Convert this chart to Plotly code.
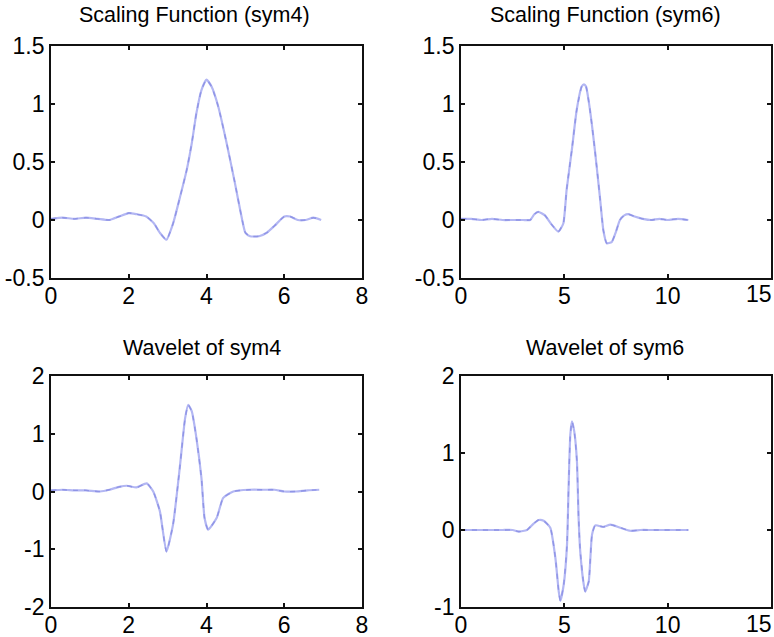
import plotly.graph_objects as go

# ---- data ----
x_phi4 = [0, 0.3, 0.6, 0.9, 1.2, 1.5, 1.75, 2.0, 2.2, 2.45, 2.65, 2.8, 2.97, 3.14, 3.32, 3.49, 3.62, 3.74,
          3.87, 4.0, 4.13, 4.3, 4.52, 4.73, 4.9, 5.0, 5.12, 5.35, 5.55, 5.75, 6.0, 6.15, 6.35, 6.55, 6.75, 6.95]
y_phi4 = [0.01, 0.02, 0.01, 0.02, 0.01, 0.0, 0.03, 0.06, 0.05, 0.03, -0.03, -0.11, -0.17, -0.03, 0.2, 0.43, 0.66, 0.92,
          1.12, 1.21, 1.15, 0.98, 0.66, 0.32, 0.03, -0.11, -0.14, -0.14, -0.11, -0.05, 0.03, 0.03, 0.0, 0.0, 0.02, 0.0]

x_phi6 = [0, 0.5, 1.0, 1.5, 2.0, 2.5, 3.0, 3.35, 3.55, 3.74, 4.06, 4.39, 4.71, 4.95, 5.11, 5.36, 5.6, 5.84, 5.95,
          6.05, 6.24, 6.48, 6.72, 6.89, 7.05, 7.29, 7.5, 7.69, 7.9, 8.1, 8.4, 8.8, 9.2, 9.6, 10.0, 10.5, 11.0]
y_phi6 = [0.01, 0.01, 0.0, 0.01, 0.0, 0.0, 0.0, 0.0, 0.05, 0.07, 0.04, -0.04, -0.1, -0.03, 0.26, 0.6, 0.95, 1.15, 1.17,
          1.15, 0.95, 0.6, 0.2, -0.09, -0.2, -0.19, -0.1, 0.0, 0.04, 0.05, 0.03, 0.01, 0.0, 0.01, 0.0, 0.01, 0.0]

x_psi4 = [0, 0.3, 0.6, 0.9, 1.26, 1.5, 1.75, 1.95, 2.2, 2.46, 2.63, 2.8, 2.97, 3.14, 3.32, 3.45, 3.53, 3.62, 3.74,
          3.87, 3.95, 4.04, 4.26, 4.43, 4.69, 5.1, 5.5, 5.75, 6.0, 6.3, 6.6, 6.9]
y_psi4 = [0.02, 0.03, 0.02, 0.02, 0.0, 0.03, 0.08, 0.1, 0.07, 0.14, 0.0, -0.34, -1.04, -0.57, 0.46, 1.27, 1.5, 1.39, 0.93,
          0.23, -0.46, -0.66, -0.46, -0.11, 0.0, 0.03, 0.03, 0.03, 0.0, 0.0, 0.02, 0.03]

x_psi6 = [0, 0.5, 1.0, 1.5, 2.0, 2.5, 2.79, 3.19, 3.5, 3.76, 4.0, 4.32, 4.57, 4.73, 4.81, 4.97, 5.13, 5.21, 5.29,
          5.37, 5.48, 5.61, 5.69, 5.77, 5.94, 6.01, 6.18, 6.34, 6.5, 6.9, 7.23, 7.71, 8.19, 8.68, 9.2, 9.8, 10.4, 11.0]
y_psi6 = [0, 0, 0, 0, 0, 0, -0.02, 0.0, 0.08, 0.13, 0.12, 0.03, -0.37, -0.8, -0.92, -0.71, -0.19, 0.59, 1.24,
          1.41, 1.28, 0.89, 0.16, -0.28, -0.71, -0.8, -0.67, -0.06, 0.06, 0.04, 0.07, 0.03, -0.01, 0, 0, 0, 0, 0]

titles = ["Scaling Function (sym4)", "Scaling Function (sym6)", "Wavelet of sym4", "Wavelet of sym6"]
xticks_small = [0, 2, 4, 6, 8]
xticks_large = [0, 5, 10, 15]
yticks_phi = [-0.5, 0, 0.5, 1, 1.5]
yticks_psi4 = [-2, -1, 0, 1, 2]
yticks_psi6 = [-1, 0, 1, 2]

# ---- layout ----
W, H = 774, 637
FONT = "Liberation Sans, Arial, Helvetica, sans-serif"
LINE_LIGHT = "#b3b7f3"
LINE_DARK = "#8f94e6"
TICK_SIZE = 23

panels = [
    dict(x=x_phi4, y=y_phi4, xr=[0, 8], yr=[-0.5, 1.5], xt=xticks_small, yt=yticks_phi,
         dom_x=[51 / W, 362 / W], dom_y=[1 - 278 / H, 1 - 46 / H], tx=194, ty=15, ly=294),
    dict(x=x_phi6, y=y_phi6, xr=[0, 15], yr=[-0.5, 1.5], xt=xticks_large, yt=yticks_phi,
         dom_x=[461 / W, 771 / W], dom_y=[1 - 278 / H, 1 - 46 / H], tx=605, ty=15, ly=294),
    dict(x=x_psi4, y=y_psi4, xr=[0, 8], yr=[-2, 2], xt=xticks_small, yt=yticks_psi4,
         dom_x=[51 / W, 362 / W], dom_y=[1 - 607 / H, 1 - 376 / H], tx=202, ty=348, ly=624),
    dict(x=x_psi6, y=y_psi6, xr=[0, 15], yr=[-1, 2], xt=xticks_large, yt=yticks_psi6,
         dom_x=[461 / W, 771 / W], dom_y=[1 - 607 / H, 1 - 376 / H], tx=605, ty=348, ly=624),
]

fig = go.Figure()
layout = dict(
    width=W, height=H, margin=dict(l=0, r=0, t=0, b=0, autoexpand=False),
    paper_bgcolor="white", plot_bgcolor="white", showlegend=False,
    font=dict(family=FONT, color="black"),
    annotations=[],
)

for i, p in enumerate(panels):
    n = "" if i == 0 else str(i + 1)
    fig.add_trace(go.Scatter(x=p["x"], y=p["y"], mode="lines",
                             line=dict(color=LINE_LIGHT, width=2.2, shape="spline", smoothing=0.5),
                             xaxis="x" + n, yaxis="y" + n, hoverinfo="skip"))
    fig.add_trace(go.Scatter(x=p["x"], y=p["y"], mode="lines",
                             line=dict(color=LINE_DARK, width=1.4, shape="spline", smoothing=0.5,
                                       dash="5px,6px"),
                             xaxis="x" + n, yaxis="y" + n, hoverinfo="skip"))
    common = dict(showline=True, linecolor="#111111", linewidth=1.8, mirror="ticks",
                  ticks="inside", ticklen=4, tickwidth=1.8, tickcolor="#111111",
                  showgrid=False, zeroline=False, ticklabeloverflow="allow", automargin=False,
                  tickfont=dict(size=TICK_SIZE, family=FONT, color="black"))
    # the last label of an axis that ends at the page edge is placed as an annotation
    # so that it stays inside the page (as in the reference)
    edge = p["dom_x"][1] > 0.99
    xt_text = [str(v) for v in p["xt"]]
    if edge:
        last = xt_text[-1]
        xt_text[-1] = ""
        layout["annotations"].append(dict(
            text=last, x=p["xt"][-1], xref="x" + n, xanchor="right", xshift=3,
            y=1 - p["ly"] / H, yref="paper", yanchor="middle", showarrow=False,
            font=dict(size=TICK_SIZE, family=FONT, color="black")))
    layout["xaxis" + n] = dict(common, domain=p["dom_x"], range=p["xr"], tickvals=p["xt"],
                               ticktext=xt_text, anchor="y" + n, ticklabelstandoff=-4)
    layout["yaxis" + n] = dict(common, domain=p["dom_y"], range=p["yr"], tickvals=p["yt"],
                               ticktext=[("%g" % v) for v in p["yt"]], anchor="x" + n)
    layout["annotations"].append(dict(
        text=titles[i], x=p["tx"] / W, y=1 - p["ty"] / H, xref="paper", yref="paper",
        xanchor="center", yanchor="middle", showarrow=False,
        font=dict(size=21.5, family=FONT, color="black")))

fig.update_layout(**layout)
fig.write_html("out.html")
